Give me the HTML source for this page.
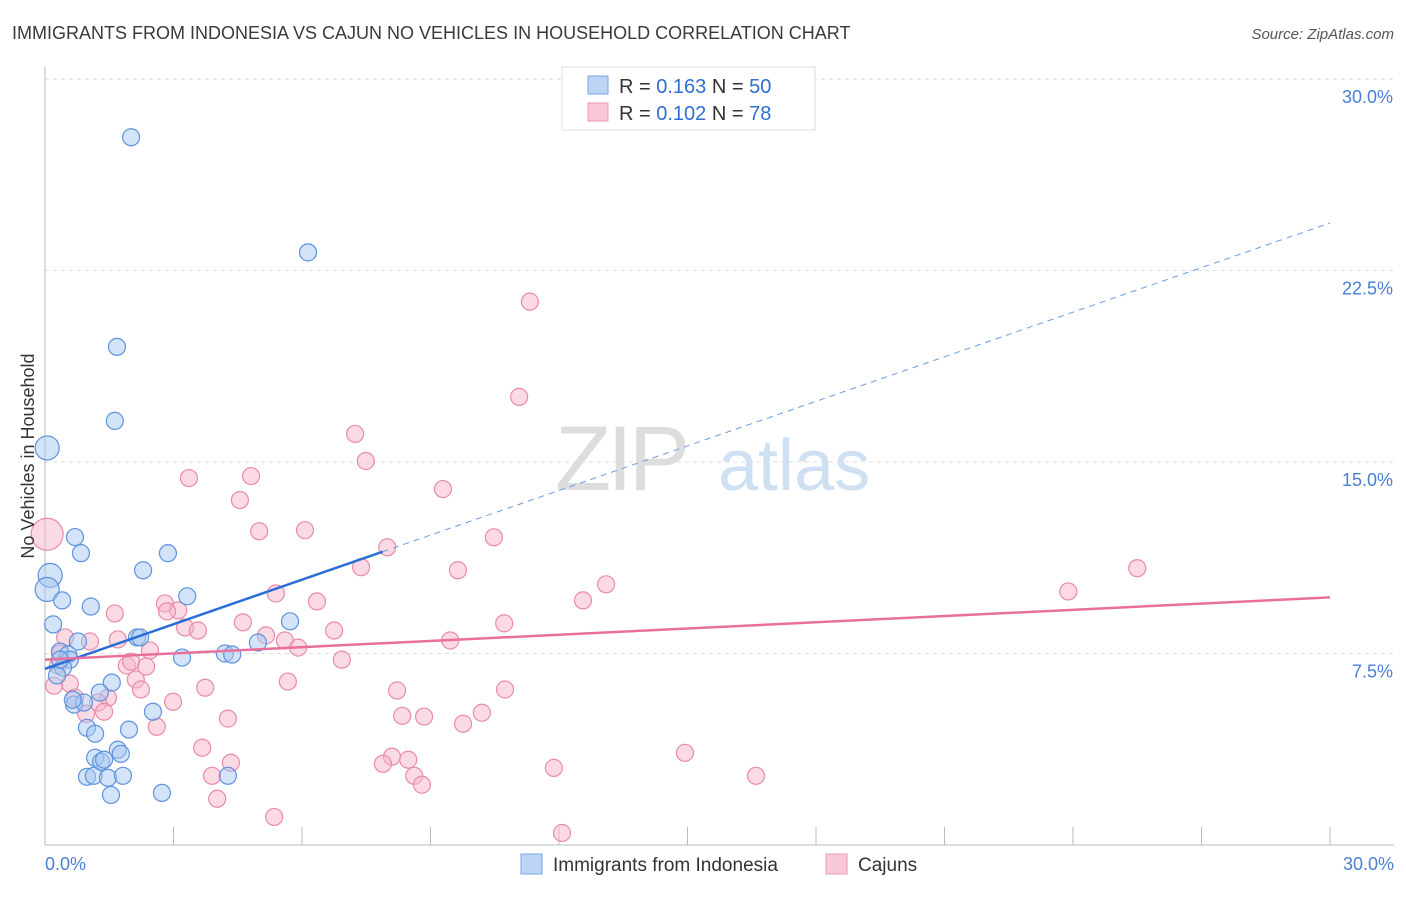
<!DOCTYPE html>
<html><head><meta charset="utf-8"><style>
body{margin:0;background:#fff;font-family:"Liberation Sans",sans-serif;}
svg text{font-family:"Liberation Sans",sans-serif;}
</style></head><body>
<svg id="chart" width="1406" height="892" xmlns="http://www.w3.org/2000/svg">
<text x="12" y="39" font-size="18" fill="#3a3a3a">IMMIGRANTS FROM INDONESIA VS CAJUN NO VEHICLES IN HOUSEHOLD CORRELATION CHART</text>
<text x="1394" y="39" font-size="15" fill="#555" text-anchor="end" font-style="italic">Source: ZipAtlas.com</text>
<g>
<text x="555" y="490" font-size="92" fill="#ddd" font-family="Liberation Serif" letter-spacing="-4">ZIP</text>
<text x="718" y="490" font-size="72" fill="#cfe0f3">atlas</text>
</g>
<g id="grid"></g>
<g id="axes"></g>
<g id="marks"></g>
<text transform="translate(34,456) rotate(-90)" font-size="18" fill="#333" text-anchor="middle">No Vehicles in Household</text>
<g>
<rect x="562" y="67" width="253" height="63" fill="#fff" stroke="#ddd"/>
<rect x="588" y="76" width="20" height="18" fill="#bcd5f5" stroke="#7aa6e0"/>
<rect x="588" y="103" width="20" height="18" fill="#f9c8d7" stroke="#ec98b4"/>
<text x="619" y="93" font-size="20" fill="#333">R = <tspan fill="#2f6fd1">0.163</tspan>   N = <tspan fill="#2f6fd1">50</tspan></text>
<text x="619" y="120" font-size="20" fill="#333">R = <tspan fill="#2f6fd1">0.102</tspan>   N = <tspan fill="#2f6fd1">78</tspan></text>
</g>
<g>
<rect x="521" y="854" width="21" height="20" fill="#bcd5f5" stroke="#7aa6e0"/>
<text x="553" y="871" font-size="19" fill="#333">Immigrants from Indonesia</text>
<rect x="826" y="854" width="21" height="20" fill="#f9c8d7" stroke="#ec98b4"/>
<text x="858" y="871" font-size="19" fill="#333">Cajuns</text>
</g>
</svg>
<script>
const yTicks=[7.5,15,22.5,30];
const yTickLabels=["7.5%","15.0%","22.5%","30.0%"];
const xTickLabels=["0.0%","30.0%"];
const blueX=[2.01,6.14,1.68,1.63,0.05,0.70,0.84,2.29,2.87,0.12,0.05,0.40,1.07,3.32,0.19,5.72,2.15,2.22,0.77,0.35,0.54,0.58,0.42,0.28,3.20,4.20,4.37,4.97,1.56,1.28,0.68,0.91,2.52,0.98,1.17,1.96,1.70,1.77,1.17,1.31,1.38,0.98,1.14,1.47,1.82,4.27,1.54,2.73,0.35,0.65];
const blueY=[27.72,23.21,19.51,16.61,15.55,12.06,11.43,10.76,11.43,10.56,10.01,9.58,9.34,9.74,8.64,8.76,8.13,8.13,7.97,7.58,7.46,7.26,6.95,6.64,7.34,7.50,7.46,7.93,6.36,5.97,5.50,5.58,5.22,4.59,4.36,4.52,3.73,3.57,3.42,3.26,3.34,2.67,2.71,2.63,2.71,2.71,1.96,2.04,7.26,5.69];
const blueBig=[4,9,10];
const pinkX=[0.05,11.32,11.07,7.24,7.49,4.81,3.36,4.55,9.29,5.00,6.07,10.48,7.99,7.38,9.64,13.10,25.50,23.89,12.56,5.39,6.35,1.63,2.80,3.11,2.85,4.62,3.27,3.57,5.16,6.75,10.72,0.47,1.05,1.70,5.60,5.91,9.46,2.45,1.91,2.01,2.36,6.93,0.30,2.12,2.24,0.58,0.21,3.74,5.67,8.22,10.74,0.70,1.47,2.99,1.24,0.96,1.38,4.27,8.34,8.85,10.20,9.76,2.61,3.67,4.34,8.10,7.89,8.48,8.62,8.80,11.88,14.94,16.60,3.90,4.02,5.35,12.07,0.35];
const pinkY=[12.17,21.28,17.55,16.10,15.04,14.45,14.37,13.51,13.94,12.29,12.33,12.05,11.66,10.88,10.76,10.21,10.84,9.93,9.58,9.85,9.54,9.07,9.46,9.19,9.15,8.72,8.52,8.40,8.21,8.40,8.68,8.13,7.97,8.05,8.01,7.73,8.01,7.62,7.03,7.18,6.99,7.26,7.03,6.48,6.09,6.32,6.24,6.16,6.40,6.05,6.09,5.77,5.77,5.61,5.58,5.14,5.22,4.95,5.06,5.03,5.18,4.75,4.63,3.81,3.22,3.46,3.18,3.34,2.71,2.36,3.02,3.61,2.71,2.71,1.81,1.10,0.47,7.50];
const pinkBig=[0];
const blueTrend=[6.9,0.582];
const pinkTrend=[7.26,0.0813];
const NS="http://www.w3.org/2000/svg";
const X0=45,X1=1330,Y0=845,Y1=79;
const sx=v=>X0+(v/30)*(X1-X0);
const sy=v=>Y0-(v/30)*(Y0-Y1);
function mk(tag,attrs,parent){const e=document.createElementNS(NS,tag);for(const k in attrs)e.setAttribute(k,attrs[k]);parent.appendChild(e);return e;}
const grid=document.getElementById('grid'),axes=document.getElementById('axes'),marks=document.getElementById('marks');
yTicks.forEach((t,i)=>{
 const l=mk('line',{x1:X0,x2:1394,y1:sy(t),y2:sy(t),stroke:'#ddd','stroke-dasharray':'4,4'},grid);
 
 
 const tx=mk('text',{x:1393,y:sy(t)+24,'font-size':18,fill:'#4a7fd4','text-anchor':'end'},axes);
 tx.textContent=yTickLabels[i];
 
 
});
const ya=mk('line',{x1:X0,x2:X0,y1:67,y2:Y0,stroke:'#bbb'},axes);


const xa=mk('line',{x1:X0,x2:1394,y1:Y0,y2:Y0,stroke:'#bbb'},axes);


for(let i=1;i<=10;i++){const t=mk('line',{x1:sx(i*3),x2:sx(i*3),y1:Y0,y2:Y0-18,stroke:'#bbb'},axes);
 
 }
[[0,'start',45],[30,'end',1394]].forEach((d,i)=>{const t=mk('text',{x:d[2],y:870,'font-size':18,fill:'#4a7fd4','text-anchor':d[1]},axes);t.textContent=xTickLabels[i];
 
 });
function pts(xs,ys,big,fill,stroke,name,bigR){xs.forEach((x,i)=>{const r=big.includes(i)?bigR:8.5;
 const c=mk('circle',{cx:sx(x),cy:sy(ys[i]),r:r,fill:fill,'fill-opacity':0.5,stroke:stroke,'stroke-width':1.2},marks);
 
 });}
pts(pinkX,pinkY,pinkBig,'#f7b6ca','#e98aab','cajun-point',16);
pts(blueX,blueY,blueBig,'#a8c8f2','#5e93dc','indonesia-point',12);
const bl=mk('line',{x1:sx(0),y1:sy(blueTrend[0]),x2:sx(7.88),y2:sy(blueTrend[0]+blueTrend[1]*7.88),stroke:'#2a6dd6','stroke-width':2.5},marks);


const bd=mk('line',{x1:sx(7.88),y1:sy(blueTrend[0]+blueTrend[1]*7.88),x2:sx(30),y2:sy(blueTrend[0]+blueTrend[1]*30),stroke:'#6b9be0','stroke-width':1,'stroke-dasharray':'6,5'},marks);


const pl=mk('line',{x1:sx(0),y1:sy(pinkTrend[0]),x2:sx(30),y2:sy(pinkTrend[0]+pinkTrend[1]*30),stroke:'#e8709a','stroke-width':2.5},marks);


</script>
</body></html>
